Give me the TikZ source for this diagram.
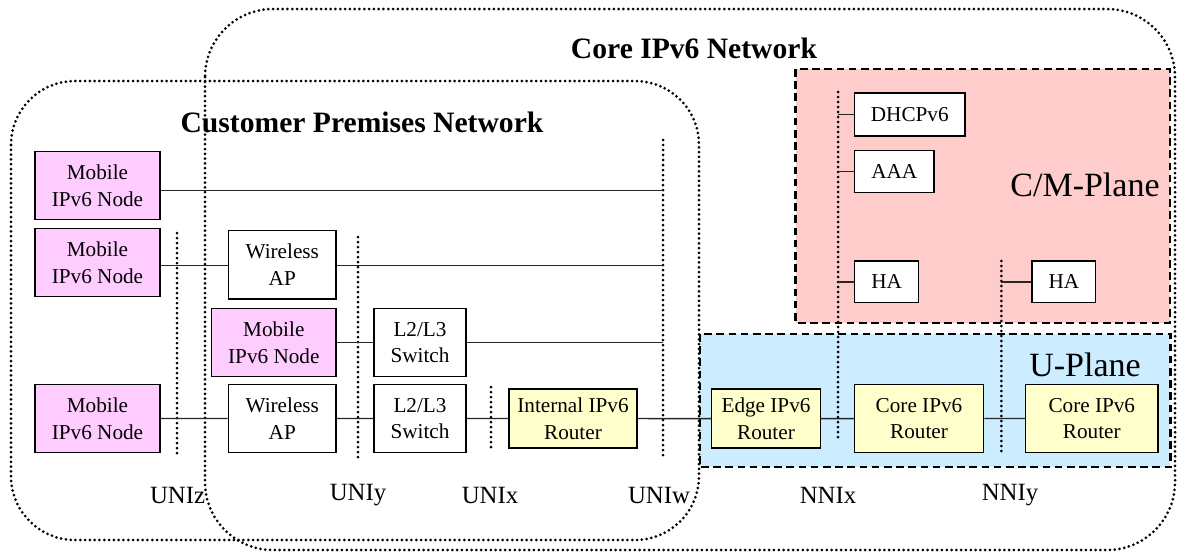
\documentclass[tikz,border=0pt]{standalone}
\usepackage{fontspec}
\setmainfont{Liberation Serif}
\definecolor{mobpink}{RGB}{255,204,255}
\definecolor{rtryellow}{RGB}{255,255,204}
\definecolor{cmpink}{RGB}{255,204,204}
\definecolor{ublue}{RGB}{204,236,255}
\begin{document}
\begin{tikzpicture}[x=0.5pt,y=-0.5pt,
  box/.style={draw=black, line width=0.75pt, inner sep=0pt, align=center,
              font=\fontsize{10.6}{13.3}\selectfont},
  mob/.style={box, fill=mobpink},
  rtr/.style={box, fill=rtryellow},
  wht/.style={box, fill=white},
  link/.style={draw=black!85, line width=0.7pt},
  iface/.style={line width=1.5pt, line cap=round, dash pattern=on 0pt off 2.5pt},
  netarea/.style={line width=1.5pt, line cap=round, dash pattern=on 0pt off 2.4pt},
  plane/.style={line width=1.15pt, dash pattern=on 3.8pt off 2.3pt},
  lbl/.style={font=\fontsize{12.4}{14}\selectfont, inner sep=0pt},
  title/.style={font=\fontsize{14.8}{17}\selectfont\bfseries, inner sep=0pt},
  planelbl/.style={font=\fontsize{17}{19}\selectfont, inner sep=0pt}]
\useasboundingbox (0,0) rectangle (1178,553);

% control/management and user planes
\draw[plane, fill=cmpink] (795.5,69) rectangle (1170,322.7);
\draw[plane, fill=ublue] (700,334) rectangle (1170.4,467.3);
\node[planelbl] (cmlbl) at (1085,185) {C/M-Plane};
\node[planelbl] (ulbl) at (1085,365) {U-Plane};

% network domains
\draw[netarea, rounded corners=34pt] (205,9) rectangle (1175,550);
\draw[netarea, rounded corners=32pt] (11,81) rectangle (699,540);
\node[title] (core) at (694,48) {Core IPv6 Network};
\node[title] (cpn) at (362,122) {Customer Premises Network};

% reference points
\draw[iface] (177,233) -- (177,453);
\draw[iface] (358,237) -- (358,457);
\draw[iface] (491,387) -- (491,448);
\draw[iface] (663,140) -- (663,455);
\draw[iface] (838,92) -- (838,440);
\draw[iface] (1001.4,261) -- (1001.4,455);

\node[lbl] (uniz) at (177.6,495) {UNIz};
\node[lbl] (uniy) at (358,495) {UNIy};
\node[lbl] (unix) at (490,495) {UNIx};
\node[lbl] (uniw) at (659,495) {UNIw};
\node[lbl] (nnix) at (828,495) {NNIx};
\node[lbl] (nniy) at (1010,495) {NNIy};

% customer premises equipment
\node[mob, minimum width=62.5pt, minimum height=33.8pt] (m1) at (97.5,185.5) {Mobile\\IPv6 Node};
\node[mob, minimum width=62.5pt, minimum height=34pt] (m2) at (97.5,262.7) {Mobile\\IPv6 Node};
\node[wht, minimum width=53.8pt, minimum height=34.2pt] (ap1) at (282.25,264.85) {Wireless\\AP};
\node[mob, minimum width=62.2pt, minimum height=34pt] (m3) at (273.8,342.7) {Mobile\\IPv6 Node};
\node[wht, minimum width=46pt, minimum height=34pt] (sw1) at (420,342.7) {L2/L3\\Switch};
\node[mob, minimum width=62.5pt, minimum height=34.2pt] (m4) at (97.5,418.5) {Mobile\\IPv6 Node};
\node[wht, minimum width=53.8pt, minimum height=34.2pt] (ap2) at (282.25,418.5) {Wireless\\AP};
\node[wht, minimum width=46pt, minimum height=34.2pt] (sw2) at (420,418.5) {L2/L3\\Switch};
\node[rtr, minimum width=64pt, minimum height=29.5pt] (ir) at (573,418.5) {Internal IPv6\\Router};

% core network equipment
\node[rtr, minimum width=54.4pt, minimum height=29.6pt] (er) at (766,418.6) {Edge IPv6\\Router};
\node[rtr, minimum width=64.5pt, minimum height=34.2pt] (cr1) at (919,418.5) {Core IPv6\\Router};
\node[rtr, minimum width=66.3pt, minimum height=34.2pt] (cr2) at (1091.8,418.5) {Core IPv6\\Router};
\node[wht, minimum width=55.2pt, minimum height=21.5pt] (dhcp) at (909.8,114.5) {DHCPv6};
\node[wht, minimum width=39.7pt, minimum height=21pt] (aaa) at (894.3,171.7) {AAA};
\node[wht, minimum width=32pt, minimum height=20.8pt] (ha1) at (886.6,281.8) {HA};
\node[wht, minimum width=31.8pt, minimum height=20.8pt] (ha2) at (1063.8,281.8) {HA};

% link end points on the reference points
\coordinate (w1) at (663,190.7);
\coordinate (w2) at (663,265.7);
\coordinate (w3) at (663,342.3);
\coordinate (x1) at (838,114.3);
\coordinate (x2) at (838,171.7);
\coordinate (x3) at (838,281.8);
\coordinate (y1) at (1001.4,281.8);

% links
\draw[link] (m1.east |- w1) -- (w1);
\draw[link] (m2.east |- w2) -- (ap1.west |- w2);
\draw[link] (ap1.east |- w2) -- (w2);
\draw[link] (m3.east |- w3) -- (sw1.west |- w3);
\draw[link] (sw1.east |- w3) -- (w3);
\draw[link] (m4) -- (ap2) -- (sw2) -- (ir) -- (er) -- (cr1) -- (cr2);
\draw[link] (x1) -- (dhcp.west |- x1);
\draw[link] (x2) -- (aaa.west |- x2);
\draw[link] (x3) -- (ha1.west |- x3);
\draw[link] (y1) -- (ha2.west |- y1);
\end{tikzpicture}
\end{document}
